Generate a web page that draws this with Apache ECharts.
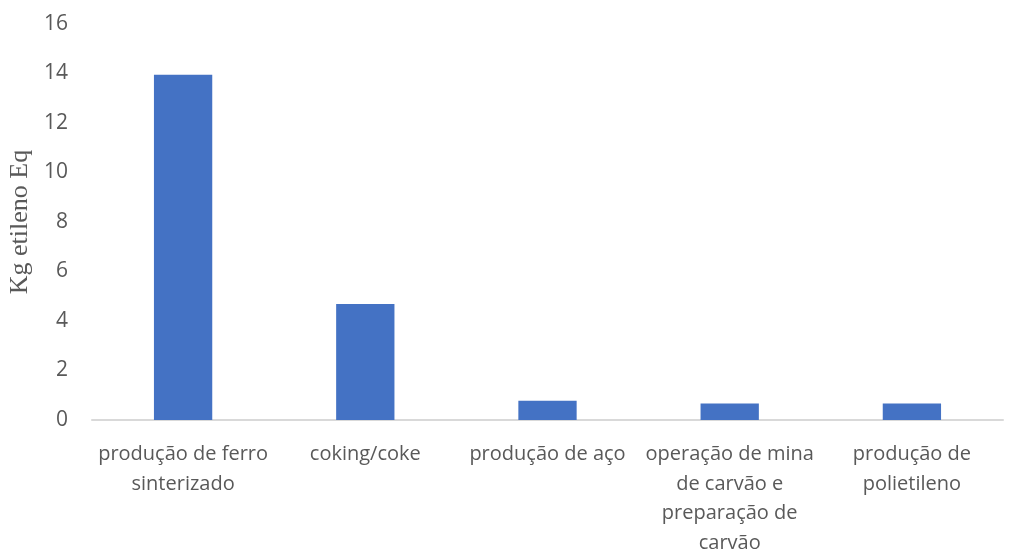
<!DOCTYPE html>
<html lang="pt">
<head>
    <meta charset="UTF-8">
    <title>Kg etileno Eq</title>
    <script src="https://cdn.jsdelivr.net/npm/echarts@6/dist/echarts.min.js"></script>
    <style>
        html, body { margin: 0; padding: 0; background: #fff; }
    </style>
</head>
<body>
    <div id="main" style="width: 1009px;height:549px;"></div>
    <script type="text/javascript">
        // dados
        var categorias = [
            'produção de ferro\nsinterizado',
            'coking/coke',
            'produção de aço',
            'operação de mina\nde carvão e\npreparação de\ncarvão',
            'produção de\npolietileno'
        ];
        var valores = [13.95, 4.69, 0.78, 0.67, 0.67];
        var yTicks = [0, 2, 4, 6, 8, 10, 12, 14, 16];

        var myChart = echarts.init(document.getElementById('main'));

        var option = {
            animation: false,
            grid: {
                left: 92,
                right: 6,
                top: 24,
                bottom: 129,
                outerBoundsMode: 'none',
                containLabel: false
            },
            xAxis: {
                type: 'category',
                data: categorias,
                axisLine: { lineStyle: { color: '#d9d9d9', width: 2 } },
                axisTick: { show: false },
                axisLabel: {
                    color: '#595959',
                    fontSize: 20,
                    fontFamily: 'Open Sans',
                    lineHeight: 29.5,
                    margin: 20,
                    interval: 0
                }
            },
            yAxis: {
                type: 'value',
                min: yTicks[0],
                max: yTicks[yTicks.length - 1],
                interval: 2,
                name: 'Kg etileno Eq',
                nameLocation: 'center',
                nameGap: 56,
                nameTextStyle: {
                    color: '#595959',
                    fontSize: 26,
                    fontFamily: 'Liberation Serif'
                },
                axisLine: { show: false },
                axisTick: { show: false },
                splitLine: { show: false },
                axisLabel: {
                    color: '#595959',
                    fontSize: 21,
                    fontFamily: 'Open Sans',
                    margin: 24
                }
            },
            series: [{
                type: 'bar',
                data: valores,
                barWidth: '32%',
                itemStyle: { color: '#4472C4' }
            }]
        };

        myChart.setOption(option);
    </script>
</body>
</html>
